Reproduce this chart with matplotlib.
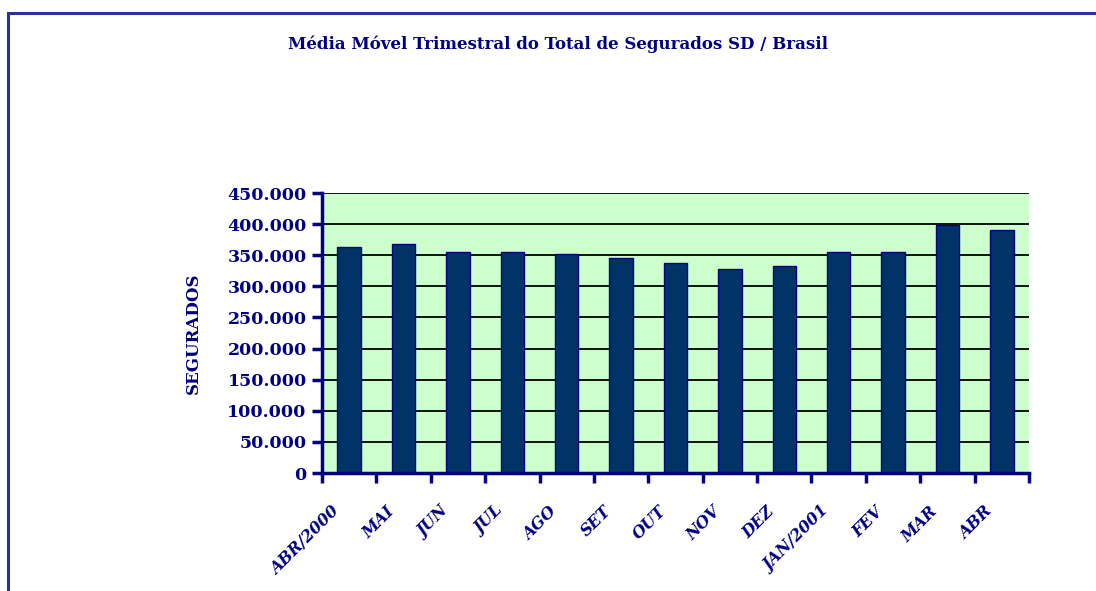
import matplotlib.pyplot as plt
import matplotlib.transforms as mtransforms
from matplotlib.patches import Rectangle
from matplotlib.ticker import FuncFormatter

meses = ["ABR/2000", "MAI", "JUN", "JUL", "AGO", "SET", "OUT", "NOV", "DEZ",
         "JAN/2001", "FEV", "MAR", "ABR"]
segurados = [364000, 368000, 355000, 355000, 352000, 346000, 338000,
             328000, 332000, 355000, 355000, 398000, 391000]

navy = "#000080"
fonte = "DejaVu Serif"

fig = plt.figure(figsize=(10.96, 5.91), dpi=100)
fig.patch.set_facecolor("white")

# moldura do grafico
moldura = Rectangle((8 / 1096, -0.2), 1.2, 1.2 - 13 / 591,
                    transform=fig.transFigure, fill=False,
                    edgecolor="#2E2EA3", linewidth=2.2)
fig.add_artist(moldura)

ax = fig.add_axes([322 / 1096, 1 - 473 / 591, (1029 - 322) / 1096, (473 - 193) / 591])
ax.set_facecolor("#CCFFCC")

x = [i + 0.5 for i in range(len(meses))]
ax.bar(x, segurados, width=0.43, color="#003366", edgecolor=navy, linewidth=1, zorder=3)

ax.set_xlim(0, len(meses))
ax.set_ylim(0, 450000)
ax.set_yticks(range(0, 450001, 50000))
ax.yaxis.set_major_formatter(FuncFormatter(lambda v, p: "0" if v == 0 else f"{int(v):,}".replace(",", ".")))
ax.grid(axis="y", color="black", linewidth=1.3, zorder=1)
ax.set_axisbelow(True)

# ticks do eixo x nos limites das categorias
ax.set_xticks(range(len(meses) + 1), minor=True)
ax.set_xticks(x)
ax.set_xticklabels(meses)
ax.tick_params(axis="x", which="major", length=0, pad=26)
ax.tick_params(axis="x", which="minor", length=7, width=2.5, color=navy, direction="out")
ax.tick_params(axis="y", length=7, width=2.5, color=navy, direction="out", pad=4)

desloc = mtransforms.ScaledTranslation(-12 / 100, 0, fig.dpi_scale_trans)
for lbl in ax.get_xticklabels():
    lbl.set_rotation(45)
    lbl.set_rotation_mode("anchor")
    lbl.set_ha("right")
    lbl.set_va("center")
    lbl.set_family(fonte)
    lbl.set_style("italic")
    lbl.set_weight("bold")
    lbl.set_fontsize(11.5)
    lbl.set_color(navy)
    lbl.set_transform(lbl.get_transform() + desloc)

for lbl in ax.get_yticklabels():
    lbl.set_family(fonte)
    lbl.set_weight("bold")
    lbl.set_fontsize(12.5)
    lbl.set_color(navy)

for lado in ["top", "right"]:
    ax.spines[lado].set_visible(False)
for lado in ["left", "bottom"]:
    ax.spines[lado].set_color(navy)
    ax.spines[lado].set_linewidth(2.5)
    ax.spines[lado].set_zorder(4)

ax.set_ylabel("SEGURADOS", family=fonte, weight="bold", fontsize=12, color=navy)
ax.yaxis.set_label_coords(-0.170, 0.5)

fig.text(558 / 1096, 1 - 44 / 591, "Média Móvel Trimestral do Total de Segurados SD / Brasil",
         ha="center", va="center", family=fonte, weight="bold", fontsize=12, color=navy)

fig.savefig("out.png", dpi=100)
